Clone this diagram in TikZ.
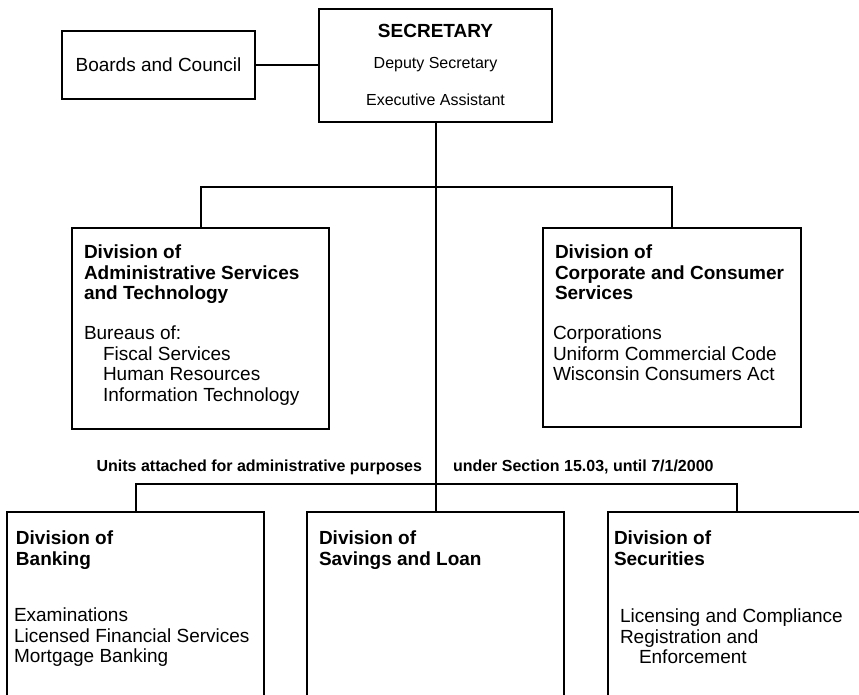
\documentclass[tikz,border=0pt]{standalone}
\usepackage{fontspec}
\setmainfont{Liberation Sans}

\tikzset{every picture/.style={line width=1.5pt}}
\tikzset{
  unitbox/.style={draw, rectangle, inner sep=0pt},
  titletext/.style={anchor=north west, inner sep=0pt, align=left, font=\fontsize{14.25}{15.2}\selectfont\bfseries},
  bodytext/.style={anchor=north west, inner sep=0pt, align=left, font=\fontsize{14.25}{15.4}\selectfont},
  notetext/.style={inner sep=0pt, font=\fontsize{12}{14}\selectfont\bfseries},
  smalltext/.style={inner sep=0pt, font=\fontsize{12}{14}\selectfont}
}

\begin{document}
\begin{tikzpicture}[x=0.75pt,y=0.75pt,yscale=-1,xscale=1]
\useasboundingbox (0,0) rectangle (859,694);
\clip (0,0) rectangle (859,694);

%Shape: Rectangle [id:boards]
\node [unitbox, minimum width=144.75pt, minimum height=51pt, font=\fontsize{14.25}{15.4}\selectfont] (boards) at (158.5,65) {Boards and Council};
%Shape: Rectangle [id:sec]
\node [unitbox, minimum width=174.75pt, minimum height=84.75pt] (sec) at (435.5,65.5) {};
%Shape: Rectangle [id:admin]
\node [unitbox, minimum width=192.75pt, minimum height=150.75pt] (admin) at (200.5,328.5) {};
%Shape: Rectangle [id:corp]
\node [unitbox, minimum width=193.5pt, minimum height=149.25pt] (corp) at (672,327.5) {};
%Shape: Rectangle [id:bank]
\node [unitbox, minimum width=192.75pt, minimum height=171pt] (bank) at (135.5,626) {};
%Shape: Rectangle [id:sl]
\node [unitbox, minimum width=192.75pt, minimum height=171pt] (sl) at (435.5,626) {};
%Shape: Rectangle [id:secdiv]
\node [unitbox, minimum width=192.75pt, minimum height=171pt] (secdiv) at (736.5,626) {};

%Straight Lines [id:boards-sec]
\draw (boards.east) -- (boards.east -| sec.west) ;
%Straight Lines [id:sec-sl]
\draw (sec.south) -- (sl.north) ;
%Straight Lines [id:divisions]
\draw (admin.north) -- ++(0,-40) -| (corp.north) ;
%Straight Lines [id:attached]
\draw (bank.north) -- ++(0,-27) -| (secdiv.north) ;

% Text Node
\node [anchor=base, inner sep=0pt, font=\fontsize{14.25}{15.4}\selectfont\bfseries] (sectitle) at (435.5,37) {SECRETARY};
% Text Node
\node [smalltext, anchor=base] (secdep) at (435.5,68.5) {Deputy Secretary};
% Text Node
\node [smalltext, anchor=base] (secexec) at (435.5,105.5) {Executive Assistant};

% Text Node
\node [titletext] (admintitle) at (83,244) {Division of\\Administrative Services\\and Technology};
% Text Node
\node [bodytext] (adminbody) at (83,325) {Bureaus of:\\\hspace*{1em}Fiscal Services\\\hspace*{1em}Human Resources\\\hspace*{1em}Information Technology};

% Text Node
\node [titletext] (corptitle) at (554,244) {Division of\\Corporate and Consumer\\Services};
% Text Node
\node [bodytext] (corpbody) at (552,325) {Corporations\\Uniform Commercial Code\\Wisconsin Consumers Act};

% Text Node
\node [notetext, anchor=base east] (notea) at (423,471) {Units attached for administrative purposes};
% Text Node
\node [notetext, anchor=base west] (noteb) at (452,471) {under Section 15.03, until 7/1/2000};

% Text Node
\node [titletext] (banktitle) at (15,530) {Division of\\Banking};
% Text Node
\node [bodytext] (bankbody) at (13,607) {Examinations\\Licensed Financial Services\\Mortgage Banking};

% Text Node
\node [titletext] (sltitle) at (318,530) {Division of\\Savings and Loan};

% Text Node
\node [titletext] (secdivtitle) at (613,530) {Division of\\Securities};
% Text Node
\node [bodytext] (secdivbody) at (619,608) {Licensing and Compliance\\Registration and\\\hspace*{1em}Enforcement};

\end{tikzpicture}
\end{document}
